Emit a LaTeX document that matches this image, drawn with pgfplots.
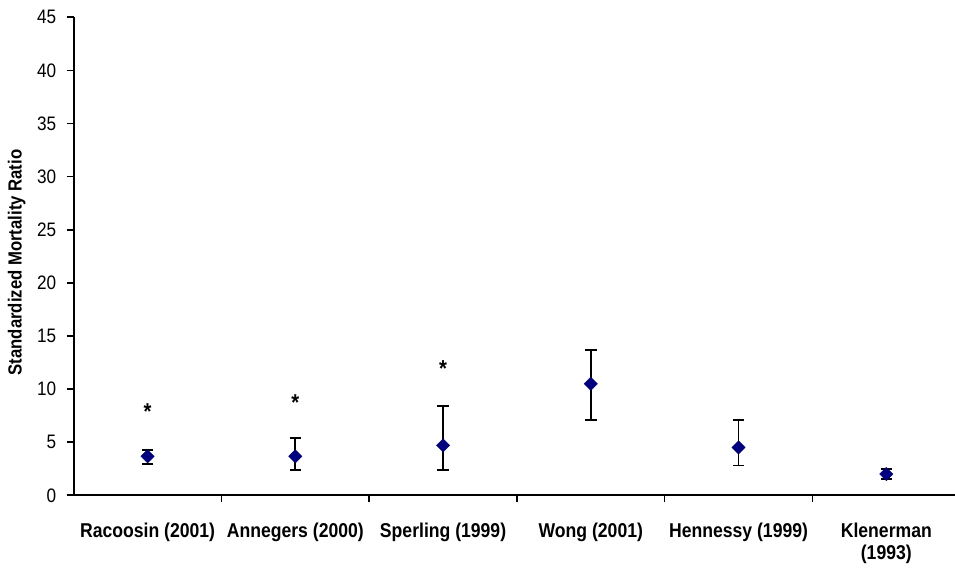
\documentclass[border=0pt]{standalone}
\usepackage{fontspec}
\setmainfont{Liberation Sans}[FakeStretch=0.88]
\usepackage{pgfplots}
\pgfplotsset{compat=1.18}
\definecolor{navy}{RGB}{0,0,128}

\begin{document}
\begin{tikzpicture}[x=1pt,y=1pt]
\path (0,0) rectangle (955,569);
\begin{axis}[
    at={(73.7pt,73.7pt)}, anchor=south west,
    scale only axis,
    width=885pt, height=478pt,
    xmin=0.5, xmax=6.49,
    ymin=0, ymax=45,
    axis x line=bottom, axis y line=left,
    axis line style={-, line width=1.6pt},
    clip=false,
    ytick={0,5,...,45},
    xtick={1,...,6},
    xticklabels={Racoosin (2001),Annegers (2000),Sperling (1999),Wong (2001),Hennessy (1999),Klenerman\\(1993)},
    minor xtick={1.5,2.5,3.5,4.5,5.5},
    major x tick style={draw=none},
    tick align=outside,
    major tick length=7pt, minor tick length=7pt,
    tick style={black, line width=1.6pt},
    xticklabel style={font=\fontsize{20}{22}\selectfont\bfseries, align=center, yshift=-17pt, anchor=north},
    yticklabel style={font=\fontsize{19.5}{21}\selectfont, xshift=-7pt},
    /pgf/number format/assume math mode=true,
    ylabel={\textbf{Standardized Mortality Ratio}},
    ylabel style={font=\fontsize{19}{21}\selectfont, anchor=center, at={(-57pt,0.487)}},
]
% confidence intervals
\addplot[black, line width=1.8pt, only marks, mark=none,
    error bars/.cd, y dir=both, y explicit,
    error bar style={line width=1.8pt},
    error mark options={rotate=90, mark size=5.8pt, line width=1.8pt}]
coordinates {
    (1,3.67) += (0,0.63) -= (0,0.72)
    (2,3.67) += (0,1.70) -= (0,1.27)
    (3,4.70) += (0,3.70) -= (0,2.30)
    (4,10.5) += (0,3.20) -= (0,3.40)
    (5,4.50) += (0,2.60) -= (0,1.70)
    (6,2.00) += (0,0.50) -= (0,0.44)
};
% point estimates
\addplot[only marks, mark=square*, mark size=4.7pt,
    mark options={rotate=45, fill=navy, draw=navy}]
coordinates {(1,3.67) (2,3.67) (3,4.70) (4,10.5) (5,4.50) (6,2.00)};
% significance stars
\addplot[draw=none, mark=none, nodes near coords={\textbf{*}},
    nodes near coords style={anchor=center, font=\fontsize{23}{24}\selectfont}]
coordinates {(1,7.9) (2,8.7) (3,11.9)};
\end{axis}
\pgfresetboundingbox
\useasboundingbox (0,0) rectangle (955,569);
\end{tikzpicture}
\end{document}
